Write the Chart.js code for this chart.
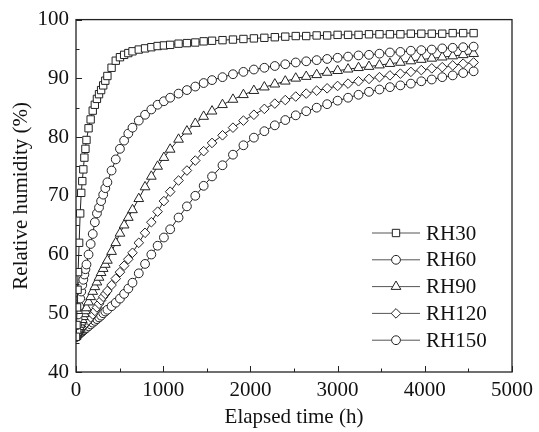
<!DOCTYPE html>
<html>
<head>
<meta charset="utf-8">
<script src="https://cdn.jsdelivr.net/npm/chart.js@4.4.0/dist/chart.umd.min.js"></script>
<style>
html,body{margin:0;padding:0;background:#fff;}
</style>
</head>
<body>
<canvas id="mycanvas" width="539" height="432"></canvas>
<script>
// elapsed time (h)
var hours = [0, 6, 12, 18, 24, 36, 48, 60, 72, 84, 96, 108, 120,
  144, 168, 192, 216, 240, 264, 288, 312, 336, 360,
  408, 456, 504, 552, 600, 648, 720,
  792, 864, 936, 1008, 1080,
  1176, 1272, 1368, 1464, 1560,
  1680, 1800, 1920, 2040, 2160, 2280, 2400, 2520, 2640, 2760, 2880, 3000, 3120,
  3240, 3360, 3480, 3600, 3720, 3840, 3960, 4080, 4200, 4320, 4440, 4560];

// relative humidity (%)
var rh30 = [46, 48, 51, 54, 57, 62, 67, 70.5, 72.5, 74.5, 76.5, 78, 79.5,
  81.5, 83, 84.5, 85.5, 86.5, 87.3, 88, 88.8, 89.6, 90.4,
  91.8, 93, 93.6, 94, 94.3, 94.6, 94.9,
  95.1, 95.3, 95.5, 95.6, 95.7,
  95.9, 96, 96.1, 96.3, 96.4,
  96.5, 96.6, 96.7, 96.8, 96.9, 97, 97.1, 97.2, 97.2, 97.3, 97.3, 97.4, 97.4,
  97.4, 97.5, 97.5, 97.5, 97.5, 97.6, 97.6, 97.6, 97.6, 97.7, 97.7, 97.7];
var rh60 = [46, 47, 48, 49, 49.8, 51.2, 52.5, 53.7, 54.8, 55.7, 56.6, 57.5, 58.3,
  60, 61.8, 63.5, 65.5, 67, 68, 69.1, 70.2, 71.3, 72.3,
  74.3, 76.2, 78, 79.4, 80.6, 81.6, 82.8,
  83.8, 84.7, 85.5, 86.1, 86.7,
  87.4, 88, 88.6, 89.2, 89.7,
  90.2, 90.7, 91.1, 91.5, 91.8, 92.1, 92.4, 92.7, 92.9, 93.1, 93.3, 93.5, 93.7,
  93.9, 94, 94.2, 94.4, 94.5, 94.7, 94.8, 94.9, 95.1, 95.2, 95.3, 95.4];
var rh90 = [46, 46.3, 46.7, 47, 47.3, 47.7, 48.1, 48.5, 48.9, 49.4, 49.9, 50.4, 50.9,
  51.9, 52.8, 53.7, 54.5, 55.3, 56.1, 56.9, 57.6, 58.3, 59,
  60.5, 62, 63.6, 65, 66.3, 67.6, 69.5,
  71.5, 73.3, 75, 76.5, 77.9,
  79.6, 81, 82.3, 83.5, 84.4,
  85.5, 86.4, 87.2, 87.9, 88.5, 89, 89.5, 90, 90.3, 90.6, 91, 91.3, 91.55,
  91.8, 92, 92.25, 92.5, 92.7, 92.95, 93.2, 93.4, 93.6, 93.8, 94, 94.2];
var rh120 = [46, 46.1, 46.2, 46.4, 46.5, 46.8, 47.1, 47.3, 47.6, 47.8, 48, 48.2, 48.4,
  48.8, 49.3, 49.8, 50.4, 51, 51.6, 52.2, 52.8, 53.3, 53.8,
  54.8, 55.9, 57, 58.1, 59.2, 60.3, 62,
  63.7, 65.5, 67.3, 69.1, 70.7,
  72.6, 74.3, 76, 77.6, 79,
  80.3, 81.6, 82.8, 83.8, 84.8, 85.7, 86.3, 86.9, 87.4, 87.9, 88.3, 88.7, 89.1,
  89.5, 89.9, 90.2, 90.5, 90.8, 91.1, 91.4, 91.7, 91.9, 92.2, 92.5, 92.7];
var rh150 = [46, 46, 46.1, 46.2, 46.3, 46.5, 46.6, 46.8, 46.9, 47.1, 47.2, 47.4, 47.5,
  47.8, 48.1, 48.4, 48.7, 49, 49.3, 49.6, 50, 50.3, 50.6,
  51.2, 51.8, 52.5, 53.3, 54.2, 55.2, 56.8,
  58.4, 60, 61.5, 62.9, 64.3,
  66.3, 68.2, 70, 71.7, 73.3,
  75.2, 77, 78.6, 79.9, 81, 82, 82.9, 83.7, 84.4, 85, 85.6, 86.2, 86.7,
  87.2, 87.7, 88.1, 88.5, 88.8, 89.1, 89.5, 89.8, 90.2, 90.5, 90.9, 91.2];

var names = ['RH30', 'RH60', 'RH90', 'RH120', 'RH150'];
var allSeries = [rh30, rh60, rh90, rh120, rh150];
var shapes = ['rect', 'circle', 'triangle', 'rectRot', 'circle'];
var sizes = [5.2, 4.4, 5.6, 4.8, 4.4];

var serif = "'Liberation Serif', serif";

function toPoints(vals){
  var pts = [];
  for (var i = 0; i < hours.length; i++) {
    pts.push({x: hours[i], y: vals[i]});
  }
  return pts;
}

var datasets = [];
for (var s = 0; s < names.length; s++) {
  datasets.push({
    label: names[s],
    data: toPoints(allSeries[s]),
    borderColor: '#222',
    borderWidth: 1,
    backgroundColor: '#fff',
    pointStyle: shapes[s],
    pointRadius: sizes[s],
    pointBorderColor: '#222',
    pointBorderWidth: 1,
    pointBackgroundColor: '#fff',
    tension: 0
  });
}

function drawShape(ctx, style, x, y, r){
  ctx.beginPath();
  if (style === 'rect') {
    var h = r * Math.SQRT1_2;
    ctx.rect(x - h, y - h, 2 * h, 2 * h);
  } else if (style === 'rectRot') {
    ctx.moveTo(x, y - r); ctx.lineTo(x + r, y); ctx.lineTo(x, y + r); ctx.lineTo(x - r, y); ctx.closePath();
  } else if (style === 'triangle') {
    ctx.moveTo(x, y - r);
    ctx.lineTo(x + r * 0.866, y + r * 0.5);
    ctx.lineTo(x - r * 0.866, y + r * 0.5);
    ctx.closePath();
  } else {
    ctx.arc(x, y, r, 0, Math.PI * 2);
  }
  ctx.fillStyle = '#fff';
  ctx.fill();
  ctx.stroke();
}

var frameAndLegend = {
  id: 'frameAndLegend',
  afterDraw: function(chart){
    var ctx = chart.ctx;
    var a = chart.chartArea;
    var xs = chart.scales.x, ys = chart.scales.y;
    ctx.save();
    ctx.strokeStyle = '#222';
    ctx.lineWidth = 1.3;
    ctx.strokeRect(a.left, a.top, a.right - a.left, a.bottom - a.top);
    ctx.lineWidth = 1;
    ctx.beginPath();
    for (var t = 0; t <= 5000; t += 500) {
      var px = Math.round(xs.getPixelForValue(t)) + 0.5;
      var len = (t % 1000 === 0) ? 6 : 3.5;
      ctx.moveTo(px, a.bottom); ctx.lineTo(px, a.bottom - len);
    }
    for (var v = 40; v <= 100; v += 5) {
      var py = Math.round(ys.getPixelForValue(v)) + 0.5;
      var len2 = (v % 10 === 0) ? 6 : 3.5;
      ctx.moveTo(a.left, py); ctx.lineTo(a.left + len2, py);
    }
    ctx.stroke();

    // legend
    ctx.font = '21px ' + serif;
    ctx.textBaseline = 'middle';
    ctx.textAlign = 'left';
    for (var i = 0; i < names.length; i++) {
      var ly = 233 + i * 26.8;
      ctx.strokeStyle = '#555';
      ctx.beginPath();
      ctx.moveTo(372, ly); ctx.lineTo(420, ly);
      ctx.stroke();
      ctx.strokeStyle = '#222';
      drawShape(ctx, shapes[i], 396, ly, sizes[i]);
      ctx.fillStyle = '#111';
      ctx.fillText(names[i], 426, ly + 1);
    }
    ctx.restore();
  }
};

var ctx = document.getElementById('mycanvas');
var chart = new Chart(ctx, {
  type: 'line',
  data: {datasets: datasets},
  plugins: [frameAndLegend],
  options: {
    responsive: false,
    animation: false,
    devicePixelRatio: 1,
    layout: {padding: {left: 0, right: 22, top: 18, bottom: 0}},
    plugins: {legend: {display: false}, tooltip: {enabled: false}},
    scales: {
      x: {
        type: 'linear',
        min: 0, max: 5000,
        ticks: {stepSize: 1000, color: '#111', padding: 6, maxRotation: 0,
          font: {family: serif, size: 21},
          callback: function(value){ return String(value); }},
        grid: {display: false, drawTicks: false},
        border: {display: false},
        title: {display: true, text: 'Elapsed time (h)', color: '#111',
          font: {family: serif, size: 21}, padding: {top: 0, bottom: 2}},
        afterFit: function(scale){ scale.height = 60; }
      },
      y: {
        min: 40, max: 100,
        ticks: {stepSize: 10, color: '#111', padding: 7,
          font: {family: serif, size: 21}},
        grid: {display: false, drawTicks: false},
        border: {display: false},
        title: {display: true, text: 'Relative humidity (%)', color: '#111',
          font: {family: serif, size: 21}, padding: {top: 9, bottom: 0}},
        afterFit: function(scale){ scale.width = 76; }
      }
    }
  }
});
</script>
</body>
</html>
